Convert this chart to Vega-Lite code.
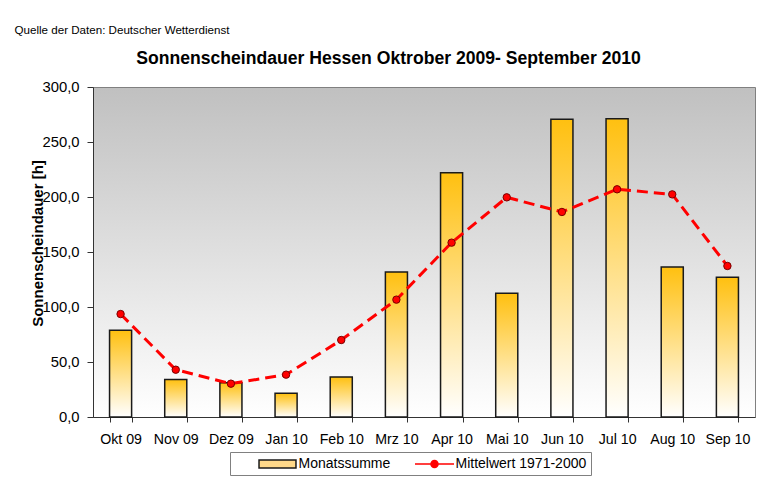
{
  "$schema": "https://vega.github.io/schema/vega-lite/v6.json",
  "width": 662,
  "height": 330,
  "autosize": {"type": "none"},
  "padding": {"left": 93, "top": 87, "right": 22, "bottom": 61},
  "background": "white",
  "data": {
    "values": [
      {"monat": "Okt 09", "summe": 78.8, "mittel": 93.6, "reihe": "Mittelwert 1971-2000"},
      {"monat": "Nov 09", "summe": 34.2, "mittel": 43.0, "reihe": "Mittelwert 1971-2000"},
      {"monat": "Dez 09", "summe": 31.2, "mittel": 30.3, "reihe": "Mittelwert 1971-2000"},
      {"monat": "Jan 10", "summe": 21.5, "mittel": 38.5, "reihe": "Mittelwert 1971-2000"},
      {"monat": "Feb 10", "summe": 36.4, "mittel": 70.0, "reihe": "Mittelwert 1971-2000"},
      {"monat": "Mrz 10", "summe": 131.8, "mittel": 106.7, "reihe": "Mittelwert 1971-2000"},
      {"monat": "Apr 10", "summe": 222.1, "mittel": 158.5, "reihe": "Mittelwert 1971-2000"},
      {"monat": "Mai 10", "summe": 112.4, "mittel": 199.7, "reihe": "Mittelwert 1971-2000"},
      {"monat": "Jun 10", "summe": 270.6, "mittel": 186.4, "reihe": "Mittelwert 1971-2000"},
      {"monat": "Jul 10", "summe": 271.2, "mittel": 207.0, "reihe": "Mittelwert 1971-2000"},
      {"monat": "Aug 10", "summe": 136.4, "mittel": 202.4, "reihe": "Mittelwert 1971-2000"},
      {"monat": "Sep 10", "summe": 127.0, "mittel": 137.3, "reihe": "Mittelwert 1971-2000"}
    ]
  },
  "layer": [
    {
      "mark": {
        "type": "bar",
        "fill": {
          "gradient": "linear", "x1": 0, "y1": 0, "x2": 0, "y2": 1,
          "stops": [{"offset": 0, "color": "#FFC010"}, {"offset": 1, "color": "#FFFFFF"}]
        },
        "stroke": "#1a1a1a",
        "strokeWidth": 1.5
      },
      "encoding": {
        "x": {
          "field": "monat", "type": "nominal", "sort": null,
          "scale": {"paddingInner": 0.6, "paddingOuter": 0.3},
          "axis": {
            "orient": "bottom",
            "title": null,
            "labelAngle": 0,
            "tickBand": "extent",
            "tickSize": 5,
            "tickColor": "#333333",
            "domainColor": "#333333",
            "labelPadding": 10,
            "labelFont": "Liberation Sans",
            "labelFontSize": 14.2,
            "labelColor": "black"
          }
        },
        "y": {
          "field": "summe", "type": "quantitative",
          "scale": {"domain": [0, 300], "nice": false},
          "axis": {
            "orient": "left",
            "values": [0, 50, 100, 150, 200, 250, 300],
            "labelExpr": "replace(format(datum.value, '.1f'), '.', ',')",
            "grid": false,
            "tickSize": 6,
            "tickColor": "#333333",
            "domainColor": "#333333",
            "labelPadding": 8,
            "labelFont": "Liberation Sans",
            "labelFontSize": 14.8,
            "labelColor": "black",
            "title": "Sonnenscheindauer [h]",
            "titleFont": "Liberation Sans",
            "titleFontSize": 15,
            "titleFontWeight": "bold",
            "titleColor": "black",
            "titleAngle": -90,
            "titleBaseline": "middle",
            "titleAlign": "center",
            "titleX": -56,
            "titleY": 156
          }
        }
      }
    },
    {
      "mark": {"type": "line", "stroke": "#FF0000", "strokeWidth": 3, "strokeDash": [11, 6]},
      "encoding": {
        "x": {
          "field": "monat", "type": "nominal", "sort": null,
          "axis": {
            "orient": "top",
            "labels": false,
            "ticks": false,
            "domain": false,
            "title": "Quelle der Daten: Deutscher Wetterdienst",
            "titleFont": "Liberation Sans",
            "titleFontSize": 11.6,
            "titleFontWeight": "normal",
            "titleColor": "black",
            "titleAngle": 0,
            "titleAlign": "left",
            "titleBaseline": "middle",
            "titleX": -79,
            "titleY": -57
          }
        },
        "y": {
          "field": "mittel", "type": "quantitative",
          "scale": {"domain": [0, 300], "nice": false},
          "axis": {
            "orient": "right",
            "labels": false,
            "ticks": false,
            "domain": false,
            "grid": false,
            "title": "Sonnenscheindauer Hessen Oktrober 2009- September 2010",
            "titleFont": "Liberation Sans",
            "titleFontSize": 17.6,
            "titleFontWeight": "bold",
            "titleColor": "black",
            "titleAngle": 0,
            "titleAlign": "center",
            "titleBaseline": "middle",
            "titleX": -367,
            "titleY": -29
          }
        }
      }
    },
    {
      "mark": {"type": "point", "filled": true, "color": "#FF0000", "stroke": "#7a0000", "strokeWidth": 1, "size": 55, "opacity": 1},
      "encoding": {
        "x": {"field": "monat", "type": "nominal", "sort": null, "axis": null},
        "y": {"field": "mittel", "type": "quantitative", "scale": {"domain": [0, 300], "nice": false}, "axis": null}
      }
    },
    {
      "transform": [{"filter": "datum.summe < 0"}],
      "mark": {"type": "point", "filled": true, "strokeWidth": 1.5, "opacity": 1},
      "encoding": {
        "x": {"field": "monat", "type": "nominal", "sort": null, "axis": null},
        "y": {"field": "mittel", "type": "quantitative", "scale": {"domain": [0, 300], "nice": false}, "axis": null},
        "shape": {
          "field": "reihe", "type": "nominal",
          "scale": {
            "domain": ["Monatssumme", "Mittelwert 1971-2000"],
            "range": [
              "M-2.64,-0.57H2.64V0.57H-2.64Z",
              "M-2.79,0H-0.5M0.5,0H2.79M0.5,0A0.5,0.5 0 1,1 -0.5,0A0.5,0.5 0 1,1 0.5,0Z"
            ]
          },
          "legend": {
            "orient": "none",
            "legendX": 137,
            "legendY": 365,
            "direction": "horizontal",
            "title": null,
            "fillColor": "white",
            "strokeColor": "#808080",
            "padding": 4,
            "symbolSize": 196,
            "symbolOffset": 35.5,
            "labelOffset": 13,
            "columnPadding": 0,
            "labelFont": "Liberation Sans",
            "labelFontSize": 14,
            "labelColor": "black"
          }
        },
        "fill": {
          "field": "reihe", "type": "nominal",
          "scale": {"domain": ["Monatssumme", "Mittelwert 1971-2000"], "range": ["#FFD98A", "#FF0000"]},
          "legend": {"title": null}
        },
        "stroke": {
          "field": "reihe", "type": "nominal",
          "scale": {"domain": ["Monatssumme", "Mittelwert 1971-2000"], "range": ["#1a1a1a", "#FF0000"]},
          "legend": {"title": null}
        }
      }
    }
  ],
  "resolve": {"axis": {"x": "independent", "y": "independent"}},
  "config": {
    "view": {
      "fill": {
        "gradient": "linear", "x1": 0, "y1": 0, "x2": 0, "y2": 1,
        "stops": [{"offset": 0, "color": "#C0C0C0"}, {"offset": 1, "color": "#FFFFFF"}]
      },
      "stroke": "#808080",
      "strokeWidth": 1
    }
  }
}
